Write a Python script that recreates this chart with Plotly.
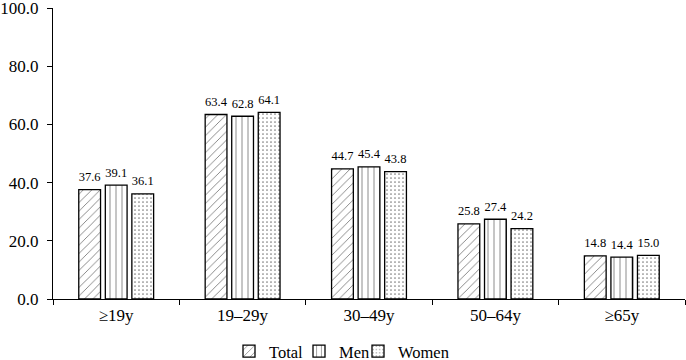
import plotly.graph_objects as go

categories = ["≥19y", "19–29y", "30–49y", "50–64y", "≥65y"]
total = [37.6, 63.4, 44.7, 25.8, 14.8]
men = [39.1, 62.8, 45.4, 27.4, 14.4]
women = [36.1, 64.1, 43.8, 24.2, 15.0]
y_ticks = [0, 20, 40, 60, 80, 100]

font = "Liberation Serif"
series = [("Total", total, "/", 6, "legend", 229),
          ("Men", men, "|", 6, "legend2", 299),
          ("Women", women, ".", 4, "legend3", 358)]
fig = go.Figure()
legends = {}
for name, vals, shape, size, leg, lx in series:
    fig.add_trace(go.Bar(
        x=categories, y=vals, name=name, legend=leg,
        marker=dict(color="white", line=dict(color="black", width=1.3),
                    pattern=dict(shape=shape, fgcolor="black", bgcolor="white", size=size, solidity=0.15)),
    ))
    legends[leg] = dict(orientation="h", x=(lx - 53) / 632, xanchor="left", y=-0.18, yanchor="middle",
                        font=dict(family=font, size=16.5, color="black"), itemwidth=30,
                        bgcolor="rgba(0,0,0,0)")
for name, vals, shape, size, leg, lx in series:
    fig.add_trace(go.Scatter(
        x=categories, y=vals, name=name, mode="markers+text", showlegend=False,
        marker=dict(size=7, opacity=0), texttemplate="%{y:.1f}", textposition="top center",
        textfont=dict(family=font, size=12.5, color="black"), cliponaxis=False, hoverinfo="skip",
    ))

fig.update_layout(
    width=686, height=360, barmode="group", bargap=0.37, bargroupgap=0.18,
    scattermode="group", scattergap=0.37,
    plot_bgcolor="white", paper_bgcolor="white",
    margin=dict(l=53, r=1, t=8, b=61, autoexpand=False),
    font=dict(family=font, size=17, color="black"),
    xaxis=dict(showline=True, linecolor="black", linewidth=1.2, ticks="outside",
               tickson="boundaries", ticklen=5, tickcolor="black", showgrid=False,
               tickfont=dict(size=17), automargin=False),
    yaxis=dict(range=[0, 100], tickvals=y_ticks, tickformat=".1f", showline=True,
               linecolor="black", linewidth=1.2, ticks="outside", ticklen=5,
               tickcolor="black", showgrid=False, zeroline=False, tickfont=dict(size=17),
               automargin=False, ticklabeloverflow="allow", ticklabelstandoff=5),
    showlegend=True,
    **legends,
)
fig.write_html("out.html", config={"displayModeBar": False},
               post_script="document.body.style.margin='0';document.body.style.overflow='hidden';")
